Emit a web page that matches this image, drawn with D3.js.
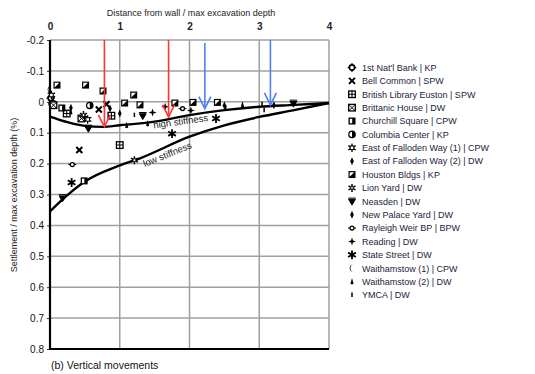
<!DOCTYPE html>
<html><head><meta charset="utf-8">
<script src="https://cdn.jsdelivr.net/npm/d3@7"></script>
<style>
html,body{margin:0;padding:0;background:#fff;}
svg{display:block;font-family:"Liberation Sans",Arial,sans-serif;}
</style></head>
<body>
<svg id="chart" width="535" height="374"></svg>
<script>
// ---------- data ----------
const xTicks = [0, 1, 2, 3, 4];
const yTicks = [-0.2, -0.1, 0, 0.1, 0.2, 0.3, 0.4, 0.5, 0.6, 0.7, 0.8];

const highStiffX = [0, 0.25, 0.5, 0.75, 1.0, 1.5, 2.0, 2.5, 3.0, 3.5, 4.0];
const highStiffY = [0.048, 0.066, 0.078, 0.081, 0.076, 0.064, 0.043, 0.027, 0.016, 0.010, 0.004];
const lowStiffX  = [0, 0.2, 0.5, 1.0, 1.3, 2.0, 2.5, 3.0, 3.5, 4.0];
const lowStiffY  = [0.355, 0.312, 0.258, 0.206, 0.182, 0.113, 0.076, 0.049, 0.027, 0.004];

const arrowX    = [0.78, 1.70, 2.22, 3.16];
const arrowTop  = [-0.2, -0.2, -0.19, -0.2];
const arrowTip  = [0.081, 0.049, 0.022, 0.010];
const arrowKind = ["red", "red", "blue", "blue"];

const seriesNames = [
  "1st Nat'l Bank | KP", "Bell Common | SPW", "British Library Euston | SPW",
  "Brittanic House | DW", "Churchill Square | CPW", "Columbia Center | KP",
  "East of Falloden Way (1) | CPW", "East of Falloden Way (2) | DW", "Houston Bldgs | KP",
  "Lion Yard | DW", "Neasden | DW", "New Palace Yard | DW", "Rayleigh Weir BP | BPW",
  "Reading | DW", "State Street | DW", "Waithamstow (1) | CPW", "Waithamstow (2) | DW",
  "YMCA | DW"
];
const markerTypes = ["nat","bell","brlib","britt","church","colum","fall1","fall2","houston",
  "lion","neas","npy","rayl","read","state","wal1","wal2","ymca"];

const natlBank    = [[0.01, -0.012], [0.04, 0.004]];
const bellCommon  = [[0.42, 0.156], [0.70, 0.025], [0.81, 0.008]];
const britLibrary = [[0.24, 0.038], [0.88, 0.045], [1.0, 0.140]];
const brittanic   = [[0.05, 0.011], [0.45, 0.054]];
const churchill   = [[0.17, 0.020], [0.49, 0.256]];
const columbia    = [[0.57, 0.012]];
const falloden1   = [[0.54, 0.057], [0.02, -0.022]];
const falloden2   = [[0.30, 0.019], [0.86, 0.022]];
const houston     = [[0.10, -0.054], [0.51, -0.054], [0.76, -0.035], [1.20, -0.022], [1.07, 0.004],
                     [1.29, 0.010], [1.79, 0.004], [2.05, 0.002], [2.40, 0.002]];
const lionYard    = [[0.48, 0.043], [1.21, 0.189]];
const neasden     = [[0.18, 0.311], [1.33, 0.045], [3.49, 0.005], [0.55, 0.086]];
const newPalace   = [[1.0, 0.038], [2.50, 0.012], [3.21, 0.011]];
const rayleigh    = [[0.32, 0.203], [1.90, 0.022]];
const reading     = [[1.47, 0.035], [1.65, 0.016], [2.02, 0.028]];
const stateStreet = [[0.31, 0.261], [1.75, 0.103], [2.38, 0.054]];
const waith1      = [[0.0, -0.040], [0.01, 0.006]];
const waith2      = [[1.10, 0.076], [1.40, 0.070], [2.76, 0.009], [0.30, 0.032]];
const ymca        = [[1.21, 0.043], [3.07, 0.027], [3.04, 0.008], [2.52, 0.019]];
const seriesData = [natlBank, bellCommon, britLibrary, brittanic, churchill, columbia,
  falloden1, falloden2, houston, lionYard, neasden, newPalace, rayleigh, reading,
  stateStreet, waith1, waith2, ymca];

// ---------- layout ----------
const svg = d3.select("#chart");
const x = d3.scaleLinear().domain([0, 4]).range([50, 329]);
const y = d3.scaleLinear().domain([-0.2, 0.8]).range([40, 349]);
const gridColor = "#a0a0a0";

// grid
svg.append("g").selectAll("line.h").data(yTicks).join("line")
  .attr("x1", x(0)).attr("x2", x(4)).attr("y1", d => y(d)).attr("y2", d => y(d))
  .attr("stroke", gridColor).attr("stroke-width", 1.5);
svg.append("g").selectAll("line.v").data(xTicks.filter(d => d > 0)).join("line")
  .attr("x1", d => x(d)).attr("x2", d => x(d)).attr("y1", y(-0.2)).attr("y2", y(0.8))
  .attr("stroke", gridColor).attr("stroke-width", 1.5);

// axes
const fmt = d => d === 0 ? "0" : d3.format(".1f")(d).replace("\u2212", "-");
const yAxis = svg.append("g").attr("transform", `translate(${x(0)},0)`)
  .call(d3.axisLeft(y).tickValues(yTicks).tickFormat(fmt).tickSize(3).tickPadding(3));
yAxis.select(".domain").remove();
yAxis.selectAll("text").attr("font-size", 10).attr("fill", "#111")
  .attr("font-family", "Liberation Sans, Arial, sans-serif");
yAxis.selectAll("line").attr("stroke", "#333");

const xAxis = svg.append("g").attr("transform", `translate(0,${y(-0.2) - 6})`)
  .call(d3.axisTop(x).tickValues(xTicks).tickFormat(d3.format("d")).tickSize(0).tickPadding(4));
xAxis.select(".domain").remove();
xAxis.selectAll("text").attr("font-size", 10).attr("font-weight", "bold").attr("fill", "#222")
  .attr("font-family", "Liberation Sans, Arial, sans-serif");

svg.append("line").attr("x1", x(0)).attr("x2", x(0)).attr("y1", y(-0.2)).attr("y2", y(0.8))
  .attr("stroke", "#000").attr("stroke-width", 2.2);
svg.append("line").attr("x1", x(0) - 1).attr("x2", x(4)).attr("y1", y(0.8)).attr("y2", y(0.8))
  .attr("stroke", "#000").attr("stroke-width", 2);

// titles
svg.append("text").attr("x", 191).attr("y", 16).attr("text-anchor", "middle")
  .attr("font-size", 9).attr("fill", "#222").text("Distance from wall / max excavation depth");
svg.append("text").attr("transform", "translate(17,195) rotate(-90)").attr("text-anchor", "middle")
  .attr("font-size", 9).attr("fill", "#222").text("Settlement / max excavation depth (%)");
svg.append("text").attr("x", 51).attr("y", 369).attr("font-size", 10.5).attr("fill", "#111")
  .text("(b) Vertical movements");

// stiffness curves
const line = d3.line().x(d => x(d[0])).y(d => y(d[1])).curve(d3.curveMonotoneX);
svg.append("path").datum(highStiffX.map((v, i) => [v, highStiffY[i]])).attr("d", line)
  .attr("fill", "none").attr("stroke", "#000").attr("stroke-width", 2.4);
svg.append("path").datum(lowStiffX.map((v, i) => [v, lowStiffY[i]])).attr("d", line)
  .attr("fill", "none").attr("stroke", "#000").attr("stroke-width", 2.4);

svg.append("text").attr("transform", `translate(${x(1.88)},${y(0.074)}) rotate(-8)`)
  .attr("text-anchor", "middle").attr("font-size", 9.5).attr("fill", "#222").text("high stiffness");
svg.append("text").attr("transform", `translate(${x(1.7)},${y(0.180)}) rotate(-22)`)
  .attr("text-anchor", "middle").attr("font-size", 9.5).attr("fill", "#222").text("low stiffness");

// markers
function marker(g, type) {
  const k = "#000";
  switch (type) {
    case "nat":
      g.append("circle").attr("r", 2.6).attr("fill", "#fff").attr("stroke", k).attr("stroke-width", 1.6);
      g.append("path").attr("d", "M0,-4.2V-2.4M0,2.4V4.2M-4.2,0H-2.4M2.4,0H4.2").attr("stroke", k).attr("stroke-width", 1.4);
      break;
    case "bell":
      g.append("path").attr("d", "M-3,-3L3,3M3,-3L-3,3").attr("stroke", k).attr("stroke-width", 2);
      break;
    case "brlib":
      g.append("rect").attr("x", -3.3).attr("y", -3.3).attr("width", 6.6).attr("height", 6.6).attr("fill", "#fff").attr("stroke", k).attr("stroke-width", 1.3);
      g.append("path").attr("d", "M0,-3.3V3.3M-3.3,0H3.3").attr("stroke", k).attr("stroke-width", 1.1);
      break;
    case "britt":
      g.append("rect").attr("x", -3.3).attr("y", -3.3).attr("width", 6.6).attr("height", 6.6).attr("fill", "#fff").attr("stroke", k).attr("stroke-width", 1.3);
      g.append("path").attr("d", "M-3.3,-3.3L3.3,3.3M3.3,-3.3L-3.3,3.3").attr("stroke", k).attr("stroke-width", 1);
      break;
    case "church":
      g.append("rect").attr("x", -3.5).attr("y", -3.5).attr("width", 7).attr("height", 7).attr("fill", k);
      g.append("rect").attr("x", -2.2).attr("y", -2.2).attr("width", 2.4).attr("height", 4.4).attr("fill", "#fff");
      break;
    case "colum":
      g.append("circle").attr("r", 3.2).attr("fill", "#fff").attr("stroke", k).attr("stroke-width", 1.2);
      g.append("path").attr("d", "M0,-3.2A3.2,3.2 0 0 1 0,3.2Z").attr("fill", k);
      break;
    case "fall1":
      g.append("path").attr("d", d3.symbol(d3.symbolAsterisk, 50)()).attr("stroke", k).attr("stroke-width", 1.3).attr("fill", "none");
      g.append("rect").attr("x", -1.8).attr("y", -1.8).attr("width", 3.6).attr("height", 3.6).attr("fill", "#fff").attr("stroke", k).attr("stroke-width", 1);
      break;
    case "fall2":
    case "npy":
      g.append("path").attr("d", "M0,-4L1.8,0L0,4L-1.8,0Z").attr("fill", k);
      break;
    case "houston":
      g.append("rect").attr("x", -3.5).attr("y", -3.5).attr("width", 7).attr("height", 7).attr("fill", k);
      g.append("path").attr("d", "M-2.3,-2.3H2.3L-2.3,2.3Z").attr("fill", "#fff");
      break;
    case "lion":
      g.append("path").attr("d", d3.symbol(d3.symbolAsterisk, 45)()).attr("stroke", k).attr("stroke-width", 1.5).attr("fill", "none");
      g.append("circle").attr("r", 1.4).attr("fill", "#fff").attr("stroke", k).attr("stroke-width", 0.8);
      break;
    case "neas":
      g.append("path").attr("d", "M-3.8,-3.2H3.8M-3.4,-2L3.4,-2L0,3.8Z").attr("fill", k).attr("stroke", k).attr("stroke-width", 1);
      break;
    case "rayl":
      g.append("circle").attr("r", 2).attr("fill", "#fff").attr("stroke", k).attr("stroke-width", 1.3);
      g.append("path").attr("d", "M-4,0H-2M2,0H4").attr("stroke", k).attr("stroke-width", 1);
      break;
    case "read":
      g.append("path").attr("d", "M0,-4L1,-1L4,0L1,1L0,4L-1,1L-4,0L-1,-1Z").attr("fill", k);
      break;
    case "state":
      g.append("path").attr("d", d3.symbol(d3.symbolAsterisk, 55)()).attr("stroke", k).attr("stroke-width", 1.8).attr("fill", "none");
      g.append("circle").attr("r", 2).attr("fill", k);
      break;
    case "wal1":
      g.append("path").attr("d", "M1.5,-3.8A3.8,3.8 0 0 0 1.5,3.8A2.4,3 0 0 1 1.5,-3.8Z").attr("fill", k);
      break;
    case "wal2":
      g.append("path").attr("d", "M0,-3.5L1.6,2.2L0,3L-1.6,2.2Z").attr("fill", k);
      break;
    case "ymca":
      g.append("path").attr("d", "M0,-2.4V2").attr("stroke", k).attr("stroke-width", 1.5);
      break;
  }
}

const pts = svg.append("g");
seriesData.forEach((arr, si) => {
  arr.forEach(p => {
    const g = pts.append("g").attr("transform", `translate(${x(p[0])},${y(p[1])})`);
    marker(g, markerTypes[si]);
  });
});

// arrows
const arrowColor = {red: "#ff3535", blue: "#4f80f2"};
arrowX.forEach((ax, i) => {
  const c = arrowColor[arrowKind[i]];
  const tx = x(ax), ty = y(arrowTip[i]);
  svg.append("line").attr("x1", tx).attr("x2", tx).attr("y1", y(arrowTop[i])).attr("y2", ty)
    .attr("stroke", c).attr("stroke-width", 1.6);
  svg.append("path").attr("d", `M${tx - 6},${ty - 12}L${tx},${ty}L${tx + 6},${ty - 12}`)
    .attr("fill", "none").attr("stroke", c).attr("stroke-width", 1.6);
});

// legend
const lg = svg.append("g");
seriesNames.forEach((name, i) => {
  const yy = 67.5 + i * 13.38;
  const g = lg.append("g").attr("transform", `translate(352,${yy})`);
  marker(g, markerTypes[i]);
  lg.append("text").attr("x", 362).attr("y", yy + 3.3).attr("font-size", 9)
    .attr("fill", "#1c1c3a").text(name);
});
</script>
</body></html>
